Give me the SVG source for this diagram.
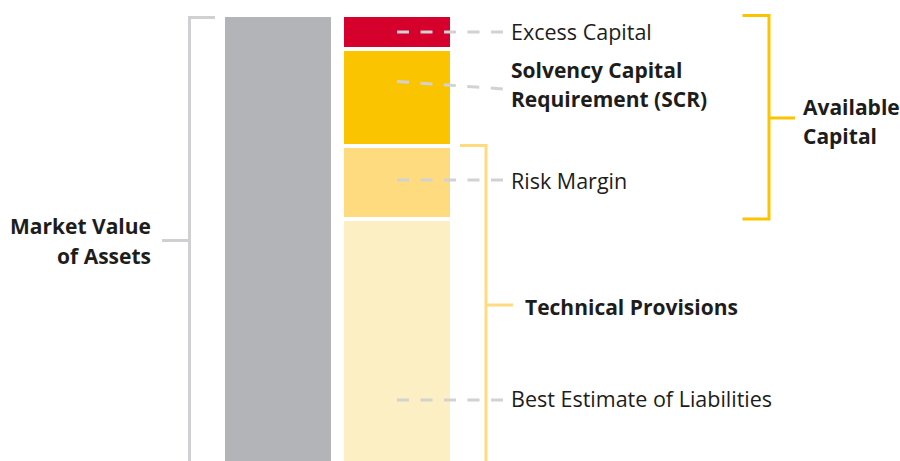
<svg xmlns="http://www.w3.org/2000/svg" width="900" height="461" viewBox="0 0 900 461">
  <style>
    text { font-family: "Open Sans", "Noto Sans", "Liberation Sans", sans-serif; fill: #1d1d1b; }
    .reg { font-size: 21.5px; font-weight: 400; }
    .bold { font-size: 21px; font-weight: 700; }
    .dash { fill: none; stroke: #d2d2d2; stroke-width: 3; stroke-dasharray: 12 11.5; }
    .brk-gray { fill: none; stroke: #d0d0d2; stroke-width: 3; }
    .brk-tp { fill: none; stroke: #fedb7f; stroke-width: 3; }
    .brk-ac { fill: none; stroke: #fbc400; stroke-width: 3; }
  </style>
  <rect width="900" height="461" fill="#ffffff"/>

  <!-- assets column -->
  <g id="assets">
    <rect x="225" y="17" width="106" height="444" fill="#b3b4b7"/>
  </g>

  <!-- liabilities column, stacked blocks -->
  <g id="excess-capital">
    <rect x="344" y="17" width="106" height="30" fill="#d5002b"/>
  </g>
  <g id="scr">
    <rect x="344" y="51" width="106" height="93" fill="#fbc400"/>
  </g>
  <g id="risk-margin">
    <rect x="344" y="148" width="106" height="69" fill="#fedb7f"/>
  </g>
  <g id="best-estimate">
    <rect x="344" y="221" width="106" height="240" fill="#fdefc4"/>
  </g>

  <!-- connectors and brackets -->
  <g id="connectors">
    <line class="dash" x1="397" y1="32" x2="504" y2="32"/>
    <line class="dash" x1="397" y1="81.5" x2="504" y2="89"/>
    <line class="dash" x1="397" y1="180" x2="504" y2="180"/>
    <line class="dash" x1="397" y1="400" x2="504" y2="400"/>

    <path class="brk-gray" d="M215 17.5 H189.5 V461 M189.5 240.5 H162"/>
    <path class="brk-tp" d="M460 145.5 H486 V461 M486 305 H513"/>
    <path class="brk-ac" d="M742.5 15.5 H769 V219 H742.5 M769 118 H795"/>
  </g>

  <!-- labels -->
  <g id="label-assets">
    <text class="bold" x="151" y="234" text-anchor="end">Market Value</text>
    <text class="bold" x="151" y="263.5" text-anchor="end">of Assets</text>
  </g>
  <g id="label-excess">
    <text class="reg" x="511" y="39.5">Excess Capital</text>
  </g>
  <g id="label-scr">
    <text class="bold" x="511" y="78">Solvency Capital</text>
    <text class="bold" x="511" y="107">Requirement (SCR)</text>
  </g>
  <g id="label-risk">
    <text class="reg" x="511" y="189">Risk Margin</text>
  </g>
  <g id="label-tp">
    <text class="bold" x="525" y="315">Technical Provisions</text>
  </g>
  <g id="label-be">
    <text class="reg" x="511" y="406.5">Best Estimate of Liabilities</text>
  </g>
  <g id="label-available">
    <text class="bold" x="803" y="114.5">Available</text>
    <text class="bold" x="803" y="143.5">Capital</text>
  </g>
</svg>
